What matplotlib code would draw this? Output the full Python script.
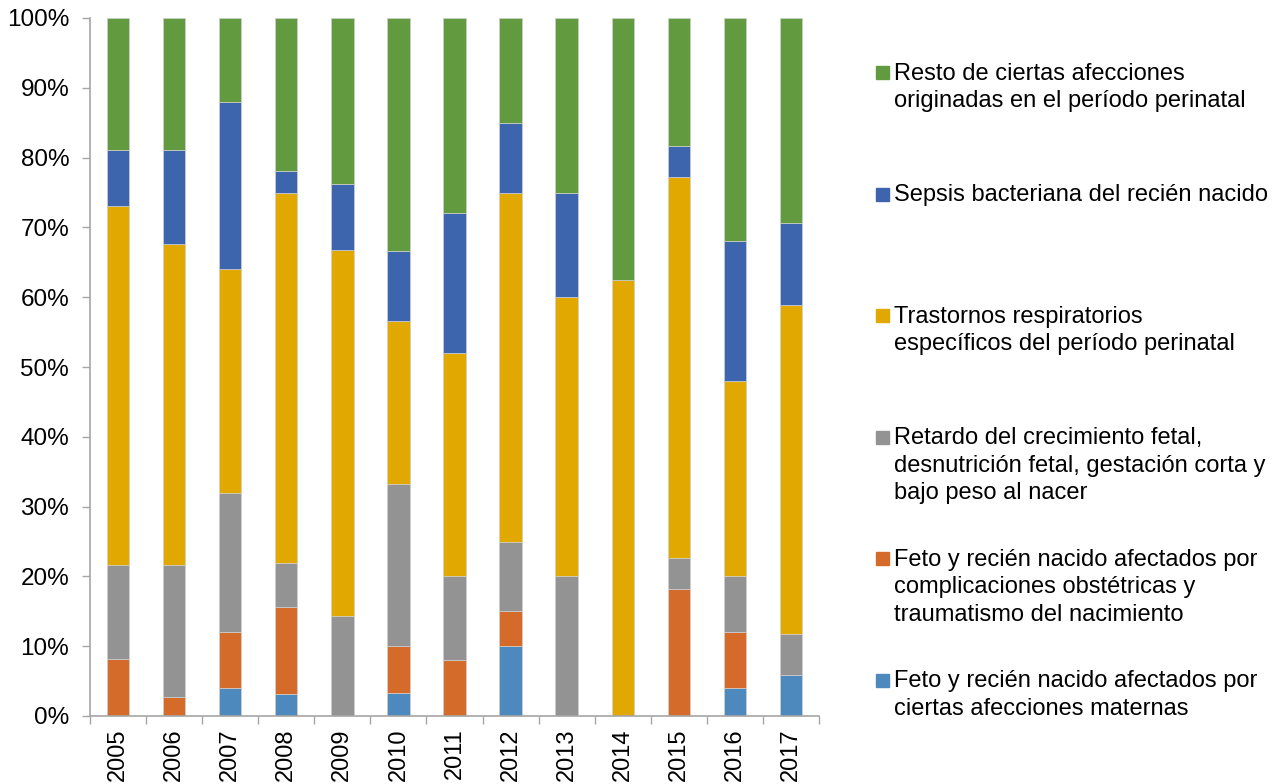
import matplotlib.pyplot as plt
import numpy as np
from matplotlib.patches import Rectangle
from matplotlib.ticker import PercentFormatter

plt.rcParams['font.family'] = ['Liberation Sans', 'DejaVu Sans']

years = ['2005', '2006', '2007', '2008', '2009', '2010', '2011',
         '2012', '2013', '2014', '2015', '2016', '2017']

# shares (%) per cause, bottom to top of each stack
maternas = [0, 0, 4.0, 3.1, 0, 3.3, 0, 10.0, 0, 0, 0, 4.0, 5.9]
complicaciones = [8.1, 2.7, 8.0, 12.5, 0, 6.7, 8.0, 5.0, 0, 0, 18.2, 8.0, 0]
retardo = [13.5, 18.9, 20.0, 6.3, 14.3, 23.3, 12.0, 10.0, 20.0, 0, 4.5, 8.0, 5.9]
respiratorios = [51.4, 46.0, 32.0, 53.1, 52.4, 23.3, 32.0, 50.0, 40.0, 62.5, 54.5, 28.0, 47.1]
sepsis = [8.1, 13.5, 24.0, 3.1, 9.5, 10.0, 20.0, 10.0, 15.0, 0, 4.5, 20.0, 11.8]
resto = [18.9, 18.9, 12.0, 21.9, 23.8, 33.4, 28.0, 15.0, 25.0, 37.5, 18.3, 32.0, 29.3]

series = [
    (maternas, '#4E89BE',
     'Feto y recién nacido afectados por\nciertas afecciones maternas'),
    (complicaciones, '#D46B2A',
     'Feto y recién nacido afectados por\ncomplicaciones obstétricas y\ntraumatismo del nacimiento'),
    (retardo, '#939393',
     'Retardo del crecimiento fetal,\ndesnutrición fetal, gestación corta y\nbajo peso al nacer'),
    (respiratorios, '#E0A800',
     'Trastornos respiratorios\nespecíficos del período perinatal'),
    (sepsis, '#3D65AE', 'Sepsis bacteriana del recién nacido'),
    (resto, '#629B3F',
     'Resto de ciertas afecciones\noriginadas en el período perinatal'),
]

fig = plt.figure(figsize=(12.87, 7.84), dpi=100)
W, H = 1287, 784
ax = fig.add_axes([90 / W, (H - 716) / H, (819 - 90) / W, (716 - 18) / H])

x = np.arange(len(years))
bottom = np.zeros(len(years))
for vals, color, label in series:
    vals = np.array(vals)
    ax.bar(x, vals, 0.40, bottom=bottom, color=color,
           edgecolor='#d0d0d0', linewidth=0.5)
    bottom += vals

ax.set_xlim(-0.5, len(years) - 0.5)
ax.set_ylim(0, 100)
ax.set_yticks(np.arange(0, 101, 10))
ax.yaxis.set_major_formatter(PercentFormatter(decimals=0))

ax.set_xticks(x)
ax.set_xticklabels(years, rotation=90)
ax.set_xticks(np.arange(-0.5, len(years)), minor=True)
ax.tick_params(axis='x', which='major', length=0, pad=9, labelsize=17)
ax.tick_params(axis='x', which='minor', length=6, color='#A6A6A6', width=1)
ax.tick_params(axis='y', length=6, color='#A6A6A6', width=1, pad=9, labelsize=17.5)

for s in ['top', 'right']:
    ax.spines[s].set_visible(False)
for s in ['left', 'bottom']:
    ax.spines[s].set_color('#A6A6A6')
    ax.spines[s].set_linewidth(1.2)

# legend drawn by hand, entries evenly spaced like in the original
for i, (vals, color, label) in enumerate(reversed(series)):
    cy = 72.7 + i * 121.5
    fig.patches.append(Rectangle((876 / W, (H - cy - 6.5) / H), 13 / W, 13 / H,
                                 transform=fig.transFigure, color=color))
    fig.text(894 / W, (H - cy + 10) / H, label, fontsize=17, va='top',
             ha='left', linespacing=1.33)

fig.savefig('out.png', dpi=100)
